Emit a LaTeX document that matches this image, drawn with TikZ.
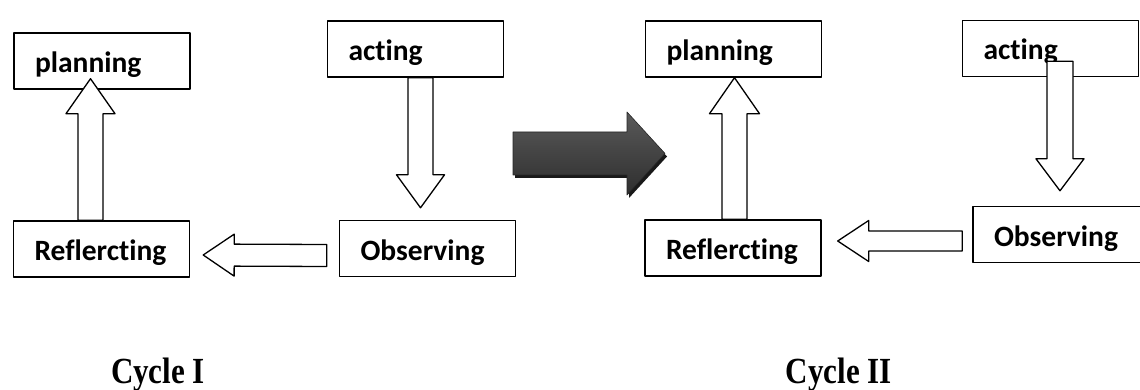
\documentclass[tikz,border=0pt]{standalone}
\usepackage{fontspec}
\setmainfont{Liberation Serif}
\newfontfamily\boxfont[Ligatures={NoCommon}]{Carlito}
\usetikzlibrary{calc,shadows}

% mui ten rong: #1 kieu, #2 goc, #3 dinh, #4 nua than, #5 nua dau, #6 dai dau
\newcommand\blockarrow[6][hollow]{%
	\coordinate (hb) at ($(#3)!#6!(#2)$);
	\draw[#1] ($(#2)!#4!90:(#3)$) -- ($(hb)!#4!90:(#3)$) -- ($(hb)!#5!90:(#3)$) -- (#3)
	-- ($(hb)!#5!-90:(#3)$) -- ($(hb)!#4!-90:(#3)$) -- ($(#2)!#4!-90:(#3)$) -- cycle;}

\begin{document}
\begin{tikzpicture}[x=1pt, y=-1pt, line join=round, >=stealth,
	stage/.style={draw, line width=1.4pt, rectangle, minimum height=56pt, inner xsep=21pt,
		text width=134pt, align=left, text height=28pt, text depth=5pt,
		font=\boxfont\bfseries\fontsize{29.5}{32}\selectfont},
	hollow/.style={draw=black, fill=white, line width=1.3pt},
	dark/.style={draw=black!85, line width=0.6pt, top color=black!65, bottom color=black!82,
		drop shadow={shadow xshift=2pt, shadow yshift=-3pt, fill=black!90, opacity=1}},
	cyclelabel/.style={anchor=base, font=\bfseries\fontsize{32}{36}\selectfont}]
	\useasboundingbox (0,0) rectangle (1140,390);
	
	% Chu ky I
	\node[stage] (plan1) at (102,61) {planning};
	\node[stage] (refl1) at (101.5,249) {Reflercting};
	\node[stage] (act1) at (415.5,49) {acting};
	\node[stage] (obs1) at (427.5,248.5) {Observing};
	
	\coordinate (p1b) at ($(plan1.south)+(-11.5,-11)$);
	\coordinate (p1a) at (p1b |- refl1.north);
	\blockarrow{p1a}{p1b}{12.5pt}{24.5pt}{35pt}
	
	\coordinate (a1a) at ($(act1.south)+(5,0)$);
	\coordinate (a1b) at ($(a1a |- obs1.north)+(0,-12)$);
	\blockarrow{a1a}{a1b}{12.5pt}{24pt}{33pt}
	
	\coordinate (o1a) at ($(obs1.west)+(-12,7)$);
	\coordinate (o1b) at ($(refl1.east)+(13,6)$);
	\blockarrow{o1a}{o1b}{11pt}{21pt}{31pt}
	
	% Mui ten chuyen chu ky
	\coordinate (bigA) at (513,153.5);
	\coordinate (bigB) at (665,153.5);
	\blockarrow[dark]{bigA}{bigB}{21.5pt}{41.5pt}{38pt}
	
	% Chu ky II
	\node[stage] (plan2) at (733.5,49) {planning};
	\node[stage] (refl2) at (733,248) {Reflercting};
	\node[stage] (act2) at (1050.5,48.5) {acting};
	\node[stage] (obs2) at (1061,234.5) {Observing};
	
	\coordinate (p2a) at ($(refl2.north)+(1.5,0)$);
	\coordinate (p2b) at (p2a |- plan2.south);
	\blockarrow{p2a}{p2b}{12.5pt}{25pt}{36pt}
	
	\coordinate (a2a) at ($(act2.south)+(9.5,-16)$);
	\coordinate (a2b) at ($(a2a |- obs2.north)+(0,-15)$);
	\blockarrow{a2a}{a2b}{13pt}{24pt}{32pt}
	
	\coordinate (o2a) at ($(obs2.west)+(-10,6.5)$);
	\coordinate (o2b) at ($(refl2.east)+(16,-7)$);
	\blockarrow{o2a}{o2b}{10pt}{20.5pt}{31pt}
	
	% Nhan
	\node[cyclelabel] (cyc1) at (158,383) {\scalebox{0.97}[1.15]{Cycle I}};
	\node[cyclelabel] (cyc2) at (839,383) {\scalebox{0.97}[1.15]{Cycle II}};
\end{tikzpicture}
\end{document}
